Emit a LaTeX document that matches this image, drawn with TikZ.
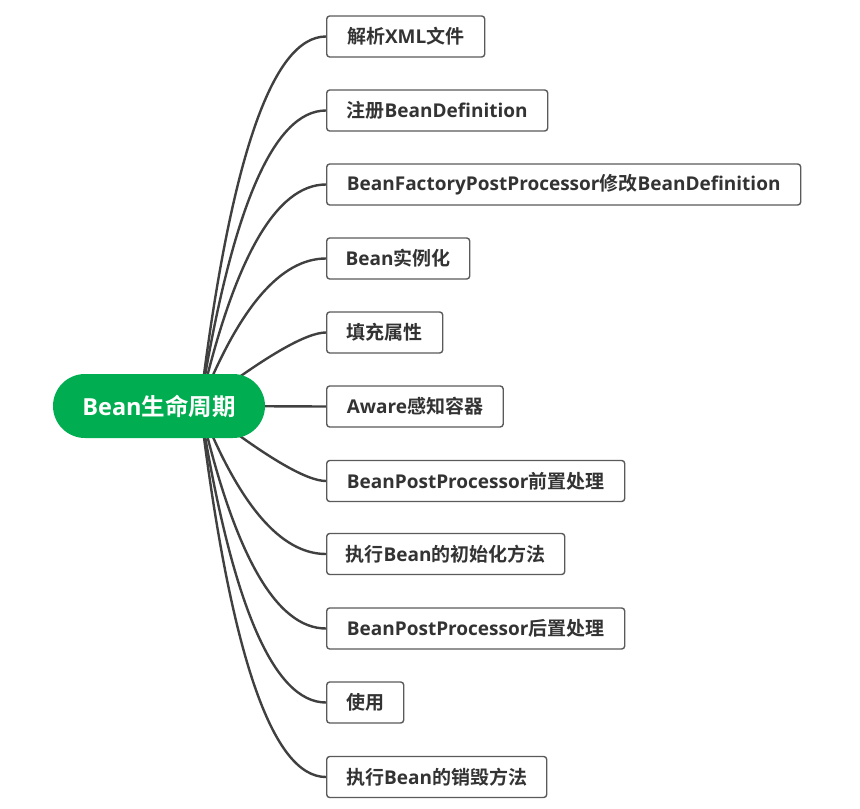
\documentclass[tikz,border=0pt]{standalone}
\usepackage{fontspec}
\setmainfont{Open Sans}
\newfontfamily\cjk{Noto Sans CJK SC}[BoldFont={Noto Sans CJK SC Bold}]
\newcommand{\zh}[1]{{\cjk #1}}
\usetikzlibrary{calc,backgrounds}
\definecolor{rootgreen}{RGB}{0,174,81}
\definecolor{linegray}{RGB}{64,64,64}
\definecolor{boxgray}{RGB}{90,90,90}
\definecolor{textgray}{RGB}{51,51,51}
\tikzset{
  x=1pt,y=-1pt,
  leaf/.style={draw=boxgray, line width=1.4pt, rounded corners=3pt, fill=white,
    minimum height=41pt, inner sep=0pt, anchor=west, text=textgray,
    font=\bfseries\fontsize{19}{21}\selectfont},
  rootnode/.style={fill=rootgreen, rounded corners=32pt, minimum width=212pt,
    minimum height=64pt, inner sep=0pt, text=white,
    font=\bfseries\fontsize{23.5}{26}\selectfont},
  conn/.style={draw=linegray, line width=2.4pt}
}
\begin{document}
\begin{tikzpicture}
\useasboundingbox (0,0) rectangle (860,809);
\coordinate (hub) at (200,406);
\node[leaf, minimum width=158pt] (b1) at (326,36.5) {\zh{解析}XML\zh{文件}};
\node[leaf, minimum width=221pt] (b2) at (326,110.5) {\zh{注册}BeanDefinition};
\node[leaf, minimum width=474pt] (b3) at (326,184.5) {BeanFactoryPostProcessor\zh{修改}BeanDefinition};
\node[leaf, minimum width=143pt] (b4) at (326,258.5) {Bean\zh{实例化}};
\node[leaf, minimum width=116pt] (b5) at (326,332.5) {\zh{填充属性}};
\node[leaf, minimum width=176.5pt] (b6) at (326,406.5) {Aware\zh{感知容器}};
\node[leaf, minimum width=298pt] (b7) at (326,481) {BeanPostProcessor\zh{前置处理}};
\node[leaf, minimum width=238pt] (b8) at (326,554) {\zh{执行}Bean\zh{的初始化方法}};
\node[leaf, minimum width=298pt] (b9) at (326,628.5) {BeanPostProcessor\zh{后置处理}};
\node[leaf, minimum width=77pt] (b10) at (326,702.5) {\zh{使用}};
\node[leaf, minimum width=220pt] (b11) at (326,777) {\zh{执行}Bean\zh{的销毁方法}};
\begin{scope}[on background layer]
\foreach \i/\d in {1/81,2/79,3/75,4/68,5/30,7/30,8/68,9/75,10/79,11/81} {
  \coordinate (c\i) at ($(b\i.west)+(-\d,0)$);
  \draw[conn] (hub) .. controls ($(hub)!0.667!(c\i)$) and ($(b\i.west)!0.667!(c\i)$) .. (b\i.west);
}
\draw[conn] (hub) -- (b6.west);
\end{scope}
\node[rootnode] (root) at (159,406) {Bean\zh{生命周期}};
\end{tikzpicture}
\end{document}
